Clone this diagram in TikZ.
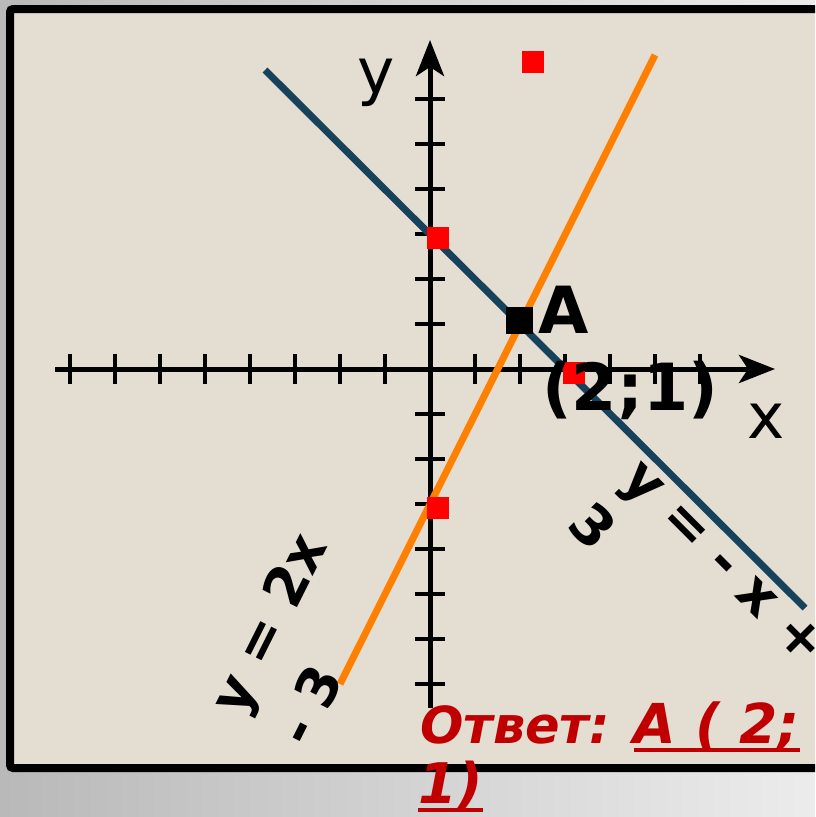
\documentclass[tikz,border=0pt]{standalone}
\usepackage{fontspec}
\setmainfont{DejaVu Sans}
\usetikzlibrary{arrows.meta}
\definecolor{paper}{HTML}{E3DDD2}
\definecolor{lineblue}{HTML}{17425C}
\definecolor{lineorange}{HTML}{FF8000}
\definecolor{answer}{HTML}{C00000}
\newcommand\ansul[1]{\setbox0\hbox{#1}\rlap{\rule[-9pt]{\wd0}{4pt}}\box0}
\tikzset{
  axis/.style={line width=5pt,-{Stealth[length=36pt,width=28pt,inset=9pt]}},
  tick/.style={line width=4pt},
  graphline/.style={line width=7pt},
  rsq/.style={fill=red,draw=none,minimum size=22pt,inner sep=0pt},
  bsq/.style={fill=black,draw=none,minimum size=27pt,inner sep=0pt},
  axlabel/.style={inner sep=0pt,font=\fontsize{63}{70}\selectfont},
  ptlabel/.style={inner sep=0pt,font=\fontsize{65}{70}\selectfont\bfseries},
  eqlabel/.style={inner sep=0pt,anchor=base west,font=\fontsize{55}{60}\selectfont\bfseries},
  anslabel/.style={inner sep=0pt,anchor=base west,text=answer,font=\fontsize{51}{60}\selectfont\bfseries\itshape}
}
\begin{document}
\begin{tikzpicture}[x=1pt,y=-1pt]
\useasboundingbox (0,0) rectangle (815,817);
\clip (0,0) rectangle (815,817);
\shade[left color=gray!55,right color=gray!15] (0,0) rectangle (815,817);
\draw[line width=8pt,fill=paper,rounded corners=3pt] (10,9) rectangle (840,768);
% ticks
\foreach \x in {70,115,160,205,250,295,340,385,475,520,565,610,655,700}
  \draw[tick] (\x,354) -- (\x,384);
\foreach \y in {99,144,189,234,279,324,414,459,504,549,594,639,684}
  \draw[tick] (415,\y) -- (445,\y);
% axes
\coordinate (xs) at (55,369);
\coordinate (xe) at (775,369);
\coordinate (ys) at (430,708);
\coordinate (ye) at (430,40);
\draw[axis] (xs) -- (xe);
\draw[axis] (ys) -- (ye);
% graph lines
\coordinate (b1) at (265,70);
\coordinate (b2) at (805,608);
\coordinate (o1) at (340,684);
\coordinate (o2) at (655,55);
\draw[graphline,lineblue] (b1) -- (b2);
\draw[graphline,lineorange] (o1) -- (o2);
% squares
\node[rsq] (r1) at (438,238) {};
\node[rsq] (r2) at (533,62) {};
\node[rsq] (r3) at (574,373) {};
\node[rsq] (r4) at (438,508) {};
\node[bsq] (pa) at (519.5,320.5) {};
% labels
\node[axlabel,anchor=base] (ylab) at (376,93) {y};
\node[axlabel,anchor=base] (xlab) at (766,438) {x};
\node[ptlabel,anchor=base west] (alab) at (538,333) {A};
\node[ptlabel,anchor=base] (clab) at (630,410) {(2;1)};
\node[eqlabel,rotate=63.43] (eqo1) at (242,719) {y = 2x};
\node[eqlabel,rotate=63.43] (eqo2) at (309,750) {- 3};
\node[eqlabel,rotate=-45] (eqb1) at (619,481) {y = - x +};
\node[eqlabel,rotate=-45] (eqb2) at (565.4,526.6) {3};
\node[anslabel] (ans1) at (420,743) {Ответ: {\fontsize{55}{60}\selectfont\ansul{A ( 2;}}};
\node[anslabel] (ans2) at (418,803) {\fontsize{56}{60}\selectfont\ansul{1)}};
\end{tikzpicture}
\end{document}
